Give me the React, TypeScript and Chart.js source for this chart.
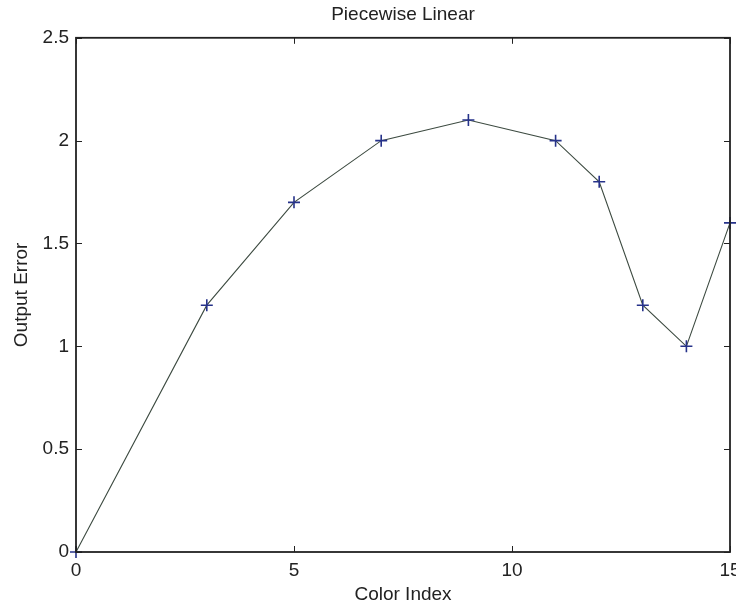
import React, { useEffect, useRef } from "react";
import { Chart, registerables } from "chart.js";

Chart.register(...registerables);

// Measured error per color index
const colorIndex = [0, 3, 5, 7, 9, 11, 12, 13, 14, 15];
const outputError = [0, 1.2, 1.7, 2.0, 2.1, 2.0, 1.8, 1.2, 1.0, 1.6];

// Axis tick values
const xTicks = [0, 5, 10, 15];
const yTicks = [0, 0.5, 1, 1.5, 2, 2.5];

const FONT = '"Liberation Sans", Arial, Helvetica, sans-serif';
const INK = "#222222";

// Draws the boxed frame with inward-pointing tick marks on all four sides
const framePlugin = {
  id: "frame",
  afterDatasetsDraw(chart: any) {
    const { ctx, chartArea, scales } = chart;
    const { left, right, top, bottom } = chartArea;
    const len = 6;
    ctx.save();
    ctx.strokeStyle = INK;
    ctx.lineWidth = 1;
    ctx.beginPath();
    for (const v of xTicks) {
      const px = Math.round(scales.x.getPixelForValue(v)) + 0.5;
      ctx.moveTo(px, bottom);
      ctx.lineTo(px, bottom - len);
      ctx.moveTo(px, top);
      ctx.lineTo(px, top + len);
    }
    for (const v of yTicks) {
      const py = Math.round(scales.y.getPixelForValue(v)) + 0.5;
      ctx.moveTo(left, py);
      ctx.lineTo(left + len, py);
      ctx.moveTo(right, py);
      ctx.lineTo(right - len, py);
    }
    ctx.stroke();
    ctx.lineWidth = 1.8;
    ctx.strokeRect(left, top, right - left, bottom - top);
    ctx.restore();
  },
};

export default function App() {
  const ref = useRef<HTMLCanvasElement | null>(null);

  useEffect(() => {
    if (!ref.current) return;
    const chart = new Chart(ref.current, {
      type: "line",
      data: {
        datasets: [
          {
            data: colorIndex.map((x, i) => ({ x, y: outputError[i] })),
            borderColor: "#3c4a40",
            borderWidth: 1.1,
            tension: 0,
            pointStyle: "cross",
            pointRadius: 6,
            pointBorderColor: "#26328a",
            pointBorderWidth: 1.6,
            pointBackgroundColor: "#26328a",
            clip: false,
          },
        ],
      },
      options: {
        responsive: false,
        animation: false,
        devicePixelRatio: 1,
        layout: { padding: { left: 0, right: 14, top: 0, bottom: 0 } },
        plugins: {
          legend: { display: false },
          tooltip: { enabled: false },
          title: {
            display: true,
            text: "Piecewise Linear",
            fullSize: false,
            color: INK,
            font: { family: FONT, size: 19, weight: "normal" },
            padding: { top: 3, bottom: 12 },
          },
        },
        scales: {
          x: {
            type: "linear",
            min: 0,
            max: 15,
            grid: { display: false, drawTicks: false },
            border: { display: false },
            afterBuildTicks: (s: any) => {
              s.ticks = xTicks.map((value) => ({ value }));
            },
            afterFit: (s: any) => {
              s.height = 55;
              s.paddingLeft = 0;
              s.paddingRight = 0;
            },
            ticks: {
              color: INK,
              padding: 7,
              maxRotation: 0,
              font: { family: FONT, size: 19 },
              callback: (v: any) => String(v),
            },
            title: {
              display: true,
              text: "Color Index",
              color: INK,
              font: { family: FONT, size: 19 },
              padding: { top: 0, bottom: 1 },
            },
          },
          y: {
            type: "linear",
            min: 0,
            max: 2.5,
            grid: { display: false, drawTicks: false },
            border: { display: false },
            afterBuildTicks: (s: any) => {
              s.ticks = yTicks.map((value) => ({ value }));
            },
            afterFit: (s: any) => {
              s.width = 76;
            },
            ticks: {
              color: INK,
              padding: 7,
              font: { family: FONT, size: 19 },
              callback: (v: any) => String(v),
            },
            title: {
              display: true,
              text: "Output Error",
              color: INK,
              font: { family: FONT, size: 19 },
              padding: { top: 10, bottom: 0 },
            },
          },
        },
      },
      plugins: [framePlugin],
    });
    return () => chart.destroy();
  }, []);

  return (
    <div
      style={{
        position: "fixed",
        left: 0,
        top: 0,
        width: 736,
        height: 607,
        overflow: "hidden",
        background: "#ffffff",
      }}
    >
      <canvas ref={ref} width={744} height={607} style={{ width: 744, height: 607, display: "block" }} />
    </div>
  );
}
